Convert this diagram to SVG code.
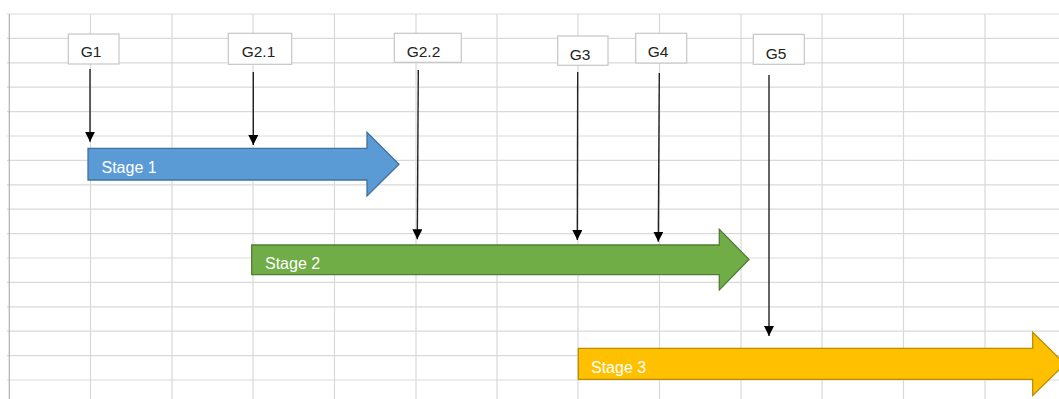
<svg xmlns="http://www.w3.org/2000/svg" width="1059" height="399" viewBox="0 0 1059 399">
<style>
.grid line{stroke:#d9d9d9;stroke-width:1.2}
.box{fill:#ffffff;stroke:#c6c6c6;stroke-width:1.2}
.lbl{font-family:"Liberation Sans",Arial,sans-serif;font-size:15.5px;fill:#222222;text-anchor:middle}
.stg{font-family:"Liberation Sans",Arial,sans-serif;font-size:16px;fill:#ffffff}
.conn line{stroke:#222222;stroke-width:1.4}
</style>
<defs>
<marker id="ah" viewBox="0 0 10 10" refX="10" refY="5" markerWidth="10" markerHeight="10" markerUnits="userSpaceOnUse" orient="auto">
<path d="M0,0 L10,5 L0,10 z" fill="#000000"/>
</marker>
</defs>
<rect x="0" y="0" width="1059" height="399" fill="#ffffff"/>
<g class="grid" id="grid">
<line x1="7" y1="14" x2="1059" y2="14"/>
<line x1="7" y1="38.4" x2="1059" y2="38.4"/>
<line x1="7" y1="62.8" x2="1059" y2="62.8"/>
<line x1="7" y1="87.2" x2="1059" y2="87.2"/>
<line x1="7" y1="111.6" x2="1059" y2="111.6"/>
<line x1="7" y1="136" x2="1059" y2="136"/>
<line x1="7" y1="160.4" x2="1059" y2="160.4"/>
<line x1="7" y1="184.8" x2="1059" y2="184.8"/>
<line x1="7" y1="209.2" x2="1059" y2="209.2"/>
<line x1="7" y1="233.6" x2="1059" y2="233.6"/>
<line x1="7" y1="258" x2="1059" y2="258"/>
<line x1="7" y1="282.4" x2="1059" y2="282.4"/>
<line x1="7" y1="306.8" x2="1059" y2="306.8"/>
<line x1="7" y1="331.2" x2="1059" y2="331.2"/>
<line x1="7" y1="355.6" x2="1059" y2="355.6"/>
<line x1="7" y1="380" x2="1059" y2="380"/>
<line x1="90.5" y1="14" x2="90.5" y2="399"/>
<line x1="172" y1="14" x2="172" y2="399"/>
<line x1="253" y1="14" x2="253" y2="399"/>
<line x1="334.5" y1="14" x2="334.5" y2="399"/>
<line x1="416" y1="14" x2="416" y2="399"/>
<line x1="497" y1="14" x2="497" y2="399"/>
<line x1="578" y1="14" x2="578" y2="399"/>
<line x1="659.5" y1="14" x2="659.5" y2="399"/>
<line x1="741" y1="14" x2="741" y2="399"/>
<line x1="822" y1="14" x2="822" y2="399"/>
<line x1="903.5" y1="14" x2="903.5" y2="399"/>
<line x1="985" y1="14" x2="985" y2="399"/>
<line x1="9.3" y1="14" x2="9.3" y2="399" style="stroke:#b0b0b0"/>
</g>
<g id="stage1">
<path d="M88,148.3 H367 V132.3 L399,164.3 L367,196 V180 H88 Z" fill="#5b9bd5" stroke="#41719c" stroke-width="1.3"/>
<text class="stg" x="101.5" y="172.7">Stage 1</text>
</g>
<g id="stage2">
<path d="M251.7,245 H719.3 V229.3 L749,259.5 L719.3,290 V274.7 H251.7 Z" fill="#70ad47" stroke="#507e32" stroke-width="1.3"/>
<text class="stg" x="265" y="268.9">Stage 2</text>
</g>
<g id="stage3">
<path d="M578.3,348.3 H1032.7 V332.3 L1065,364 L1032.7,395.5 V379.3 H578.3 Z" fill="#ffc000" stroke="#bc8c00" stroke-width="1.3"/>
<text class="stg" x="591" y="372.5">Stage 3</text>
</g>
<g class="conn" id="connectors">
<line x1="90" y1="69" x2="90" y2="141.7" marker-end="url(#ah)"/>
<line x1="253.3" y1="72" x2="253.3" y2="145" marker-end="url(#ah)"/>
<line x1="418.3" y1="70" x2="417.3" y2="239.3" marker-end="url(#ah)"/>
<line x1="577.7" y1="72" x2="577.3" y2="240" marker-end="url(#ah)"/>
<line x1="659.3" y1="73" x2="658.3" y2="241.7" marker-end="url(#ah)"/>
<line x1="769" y1="75" x2="769" y2="336" marker-end="url(#ah)"/>
</g>
<g id="G1"><rect class="box" x="68.3" y="34" width="50.7" height="30"/><text class="lbl" x="91" y="57.3">G1</text></g>
<g id="G2_1"><rect class="box" x="228.3" y="33.3" width="63.4" height="31"/><text class="lbl" x="258.5" y="57.3">G2.1</text></g>
<g id="G2_2"><rect class="box" x="394.3" y="33.3" width="67" height="29"/><text class="lbl" x="423.5" y="56.8">G2.2</text></g>
<g id="G3"><rect class="box" x="557.7" y="36" width="50.3" height="29.3"/><text class="lbl" x="580" y="59.5">G3</text></g>
<g id="G4"><rect class="box" x="635.7" y="33.3" width="51" height="29.7"/><text class="lbl" x="658" y="57">G4</text></g>
<g id="G5"><rect class="box" x="753.3" y="34.3" width="51" height="30"/><text class="lbl" x="776" y="58.5">G5</text></g>
</svg>
